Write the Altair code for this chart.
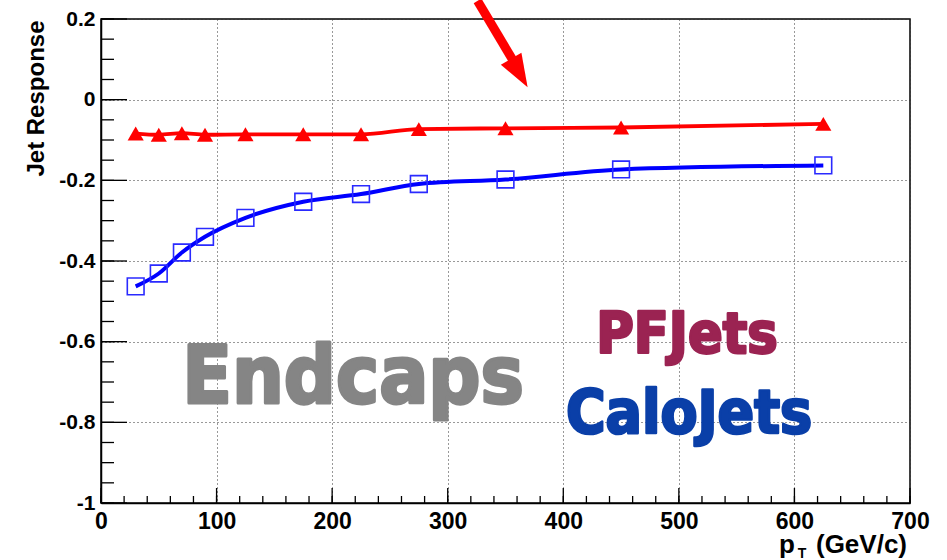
import altair as alt
import pandas as pd

# ---- data ----
pt = [30, 50, 70, 90, 125, 175, 225, 275, 350, 450, 625]
pf_resp = [-0.084, -0.087, -0.083, -0.087, -0.086, -0.086, -0.086, -0.073, -0.071, -0.069, -0.060]
calo_resp = [-0.463, -0.431, -0.379, -0.340, -0.293, -0.253, -0.234, -0.209, -0.198, -0.173, -0.163]

x_major = [0, 100, 200, 300, 400, 500, 600, 700]
x_minor = [0, 20, 40, 60, 80, 100, 120, 140, 160, 180, 200, 220, 240, 260, 280, 300,
           320, 340, 360, 380, 400, 420, 440, 460, 480, 500, 520, 540, 560, 580, 600,
           620, 640, 660, 680, 700]
y_major = [0.2, 0.0, -0.2, -0.4, -0.6, -0.8, -1.0]
y_minor = [0.2, 0.15, 0.1, 0.05, 0.0, -0.05, -0.1, -0.15, -0.2, -0.25, -0.3, -0.35,
           -0.4, -0.45, -0.5, -0.55, -0.6, -0.65, -0.7, -0.75, -0.8, -0.85, -0.9,
           -0.95, -1.0]

# annotation arrow (data units)
arrow_x = [325.8, 357.0]
arrow_y = [0.245, 0.095]
head_x = [362.0]
head_y = [0.066]

FONT = "Liberation Sans"
TXTFONT = "DejaVu Sans Condensed, sans-serif"

xs = alt.Scale(domain=[0, 700], nice=False, zero=False)
ys = alt.Scale(domain=[-1, 0.2], nice=False, zero=False)

xaxis = alt.Axis(values=x_major, ticks=False, labelPadding=7, labelFontSize=23,
                 labelFont=FONT, labelFontWeight="bold", labelColor="black",
                 labelFlush=False, labelOverlap=False, grid=True, gridDash=[1, 3],
                 gridColor="#333333", gridWidth=1, domainColor="black", domainWidth=1.5,
                 title=None)
yaxis = alt.Axis(values=y_major, ticks=False, labelPadding=6, labelFontSize=21,
                 labelFont=FONT, labelFontWeight="bold", labelColor="black",
                 labelOverlap=False, labelFlush=False, grid=True, gridDash=[1, 3],
                 gridColor="#333333", gridWidth=1, domainColor="black", domainWidth=1.5,
                 labelExpr="datum.value == 0 ? '0' : (datum.value < 0 ? '-' : '') + format(abs(datum.value), '.1~f')",
                 title="Jet Response", titleFont=FONT, titleFontSize=24, titleFontWeight="bold",
                 titleColor="black", titleAngle=270, titleX=-58, titleY=1, titleAlign="right",
                 titleBaseline="alphabetic")

X = alt.X("x:Q", scale=xs, axis=xaxis)
Y = alt.Y("y:Q", scale=ys, axis=yaxis)

pf = pd.DataFrame({"x": pt, "y": pf_resp})
calo = pd.DataFrame({"x": pt, "y": calo_resp})

calo_line = alt.Chart(calo).mark_line(color="#0000ff", strokeWidth=4, interpolate="monotone").encode(x=X, y=Y)
calo_pts = alt.Chart(calo).mark_point(shape="square", size=280, filled=False, color="#2a2aff",
                                      strokeWidth=1.6, opacity=1).encode(x=X, y=Y)
pf_line = alt.Chart(pf).mark_line(color="#ff0000", strokeWidth=3.8, interpolate="monotone").encode(x=X, y=Y)
pf_pts = alt.Chart(pf).mark_point(shape="triangle-up", size=260, filled=True, color="#ff0000",
                                  opacity=1).encode(x=X, y=Y)

ymaj = pd.DataFrame({"y": y_major})
ymin = pd.DataFrame({"y": y_minor})
xmaj = pd.DataFrame({"x": x_major})
xmin = pd.DataFrame({"x": x_minor})

yt_major = alt.Chart(ymaj).mark_rule(color="black", strokeWidth=1.3).encode(
    y=Y, x=alt.value(0), x2=alt.value(26))
yt_minor = alt.Chart(ymin).mark_rule(color="black", strokeWidth=1.3).encode(
    y=Y, x=alt.value(0), x2=alt.value(13))
xt_major = alt.Chart(xmaj).mark_rule(color="black", strokeWidth=1.3).encode(
    x=X, y=alt.value(484), y2=alt.value(469))
xt_minor = alt.Chart(xmin).mark_rule(color="black", strokeWidth=1.3).encode(
    x=X, y=alt.value(484), y2=alt.value(477))

arrow = pd.DataFrame({"x": arrow_x, "y": arrow_y})
head = pd.DataFrame({"x": head_x, "y": head_y})
arrow_line = alt.Chart(arrow).mark_line(color="#ff0000", strokeWidth=9, clip=False).encode(x=X, y=Y)
arrow_head = alt.Chart(head).mark_point(shape="M -0.72 -1 L 0.72 -1 L 0 1 Z", size=1089, filled=True,
                                        color="#ff0000", opacity=1, angle=330, clip=False).encode(x=X, y=Y)

def label(txt, x, y, size, color, align="center", weight="bold", font=TXTFONT, stroke=0):
    kw = {}
    if stroke:
        kw = dict(stroke=color, strokeWidth=stroke, strokeJoin="round")
    return alt.Chart(pd.DataFrame({"t": [txt]})).mark_text(
        font=font, fontSize=size, fontWeight=weight, color=color, align=align,
        baseline="alphabetic", **kw).encode(text="t:N", x=alt.value(x), y=alt.value(y))

t_end = label("Endcaps", 252, 384, 81, "#858585", stroke=3)
t_pf = label("PFJets", 586, 334, 57, "#9b2352", stroke=2.5)
t_calo = label("CaloJets", 588, 414, 60, "#0a3fa8", stroke=2.5)

xt1 = label("(GeV/c)", 806, 534, 26, "black", align="right", font=FONT)
xt2 = label("p", 694, 534, 26, "black", align="right", font=FONT)
xt3 = label("T", 701, 539, 14, "black", align="center", font=FONT)

chart = alt.layer(
    calo_line, calo_pts, pf_line, pf_pts,
    yt_major, yt_minor, xt_major, xt_minor,
    arrow_line, arrow_head, t_end, t_pf, t_calo, xt1, xt2, xt3,
).properties(
    width=809, height=484,
    padding={"left": 101, "top": 19, "right": 37, "bottom": 57},
    autosize=alt.AutoSizeParams(type="none"),
    background="white",
).configure_view(stroke="black", strokeWidth=1.5)

chart.save("out.html", embed_options={"renderer": "svg", "actions": False})
